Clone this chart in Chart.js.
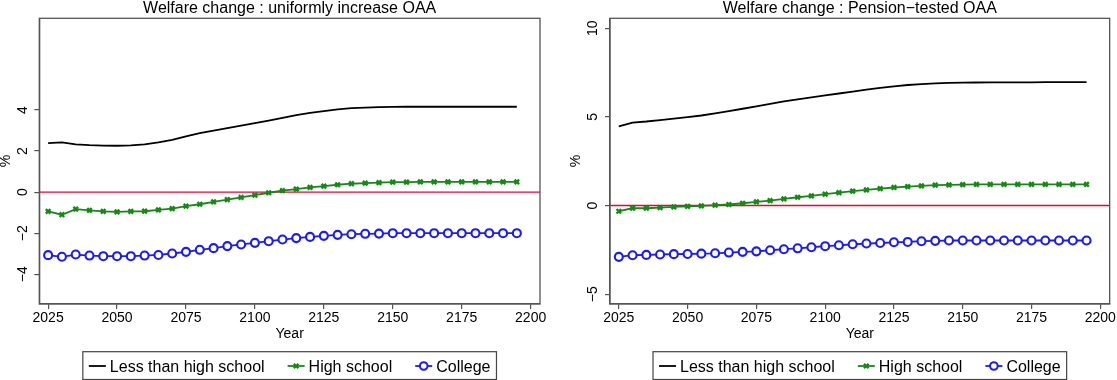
<!DOCTYPE html>
<html>
<head>
<meta charset="utf-8">
<script src="https://cdn.jsdelivr.net/npm/chart.js@4.4.1/dist/chart.umd.min.js"></script>
<style>
  html, body { margin: 0; padding: 0; background: #fff; }
  #wrap { position: relative; width: 1117px; height: 380px; overflow: hidden; }
  canvas { position: absolute; top: 0; }
</style>
</head>
<body>
<div id="wrap">
  <canvas id="c1" width="570" height="380" style="left:0px"></canvas>
  <canvas id="c2" width="547" height="380" style="left:570px"></canvas>
</div>
<script>
// ---------------- DATA ----------------
const years = [2025, 2030, 2035, 2040, 2045, 2050, 2055, 2060, 2065, 2070,
               2075, 2080, 2085, 2090, 2095, 2100, 2105, 2110, 2115, 2120,
               2125, 2130, 2135, 2140, 2145, 2150, 2155, 2160, 2165, 2170,
               2175, 2180, 2185, 2190, 2195];
const xTickLabels = [2025, 2050, 2075, 2100, 2125, 2150, 2175, 2200];
const yTicksA = [-4, -2, 0, 2, 4];
const yTicksB = [-5, 0, 5, 10];
const seriesNames = ['Less than high school', 'High school', 'College'];
const panelTitles = ['Welfare change : uniformly increase OAA', 'Welfare change : Pension\u2212tested OAA'];
const yAxisTitle = '%';
const xAxisTitle = 'Year';

// Panel A: uniformly increase OAA
const lessHS_A = [2.39, 2.42, 2.33, 2.29, 2.27, 2.26, 2.28, 2.33, 2.42, 2.55,
                  2.72, 2.88, 3.00, 3.12, 3.24, 3.36, 3.49, 3.62, 3.75, 3.86,
                  3.95, 4.03, 4.09, 4.12, 4.14, 4.15, 4.16, 4.16, 4.16, 4.16,
                  4.16, 4.16, 4.16, 4.16, 4.16];
const highSchool_A = [-0.94, -1.10, -0.83, -0.89, -0.94, -0.96, -0.94, -0.93, -0.86, -0.80,
                      -0.68, -0.59, -0.47, -0.36, -0.26, -0.15, -0.03, 0.07, 0.15, 0.23,
                      0.29, 0.36, 0.41, 0.44, 0.46, 0.49, 0.49, 0.50, 0.50, 0.50,
                      0.50, 0.50, 0.50, 0.50, 0.50];
const college_A = [-3.07, -3.15, -3.04, -3.09, -3.12, -3.12, -3.12, -3.09, -3.06, -2.99,
                   -2.91, -2.81, -2.73, -2.63, -2.55, -2.47, -2.39, -2.31, -2.24, -2.18,
                   -2.13, -2.08, -2.05, -2.03, -2.02, -2.00, -2.00, -2.00, -2.00, -2.00,
                   -2.00, -2.00, -2.00, -2.00, -2.00];

// Panel B: pension-tested OAA
const lessHS_B = [4.47, 4.68, 4.74, 4.82, 4.90, 4.99, 5.08, 5.20, 5.33, 5.46,
                  5.60, 5.74, 5.87, 5.99, 6.10, 6.21, 6.32, 6.43, 6.54, 6.64,
                  6.72, 6.80, 6.85, 6.89, 6.92, 6.93, 6.94, 6.95, 6.95, 6.95,
                  6.95, 6.96, 6.96, 6.96, 6.96];
const highSchool_B = [-0.32, -0.15, -0.15, -0.11, -0.07, -0.04, -0.02, 0.02, 0.06, 0.13,
                      0.21, 0.28, 0.38, 0.47, 0.55, 0.64, 0.73, 0.81, 0.88, 0.96,
                      1.02, 1.07, 1.11, 1.15, 1.17, 1.18, 1.20, 1.20, 1.20, 1.20,
                      1.20, 1.20, 1.20, 1.20, 1.20];
const college_B = [-2.89, -2.80, -2.78, -2.76, -2.74, -2.73, -2.71, -2.69, -2.65, -2.61,
                   -2.58, -2.52, -2.46, -2.41, -2.35, -2.29, -2.24, -2.18, -2.14, -2.11,
                   -2.07, -2.05, -2.01, -1.99, -1.97, -1.97, -1.97, -1.97, -1.97, -1.97,
                   -1.97, -1.97, -1.97, -1.97, -1.97];

// ---------------- STYLE ----------------
const FONT = '"Liberation Sans", Arial, Helvetica, sans-serif';
const BLACK = '#000000';
const GREEN = '#138a13';
const BLUE = '#1a1aff';
const RED = '#e3063b';
const FRAME = '#555555';
const MINUS = '\u2212';

Chart.defaults.font.family = FONT;
Chart.defaults.color = '#000';

function fmt(v) { return (v < 0 ? MINUS + Math.abs(v) : String(v)); }

const decorPlugin = {
  id: 'decor',
  beforeDatasetsDraw(chart, args, o) {
    const { ctx, chartArea: a, scales: { y } } = chart;
    const py = y.getPixelForValue(0);
    ctx.save();
    ctx.strokeStyle = RED;
    ctx.lineWidth = 1.4;
    ctx.beginPath();
    ctx.moveTo(a.left, py);
    ctx.lineTo(a.right, py);
    ctx.stroke();
    ctx.restore();
  },
  afterDraw(chart, args, o) {
    const { ctx, chartArea: a, scales: { y } } = chart;
    ctx.save();
    // frame
    ctx.strokeStyle = FRAME;
    ctx.lineWidth = 1.3;
    ctx.strokeRect(a.left, a.top, a.right - a.left, a.bottom - a.top);
    // panel title, centred over the plot region
    ctx.fillStyle = '#000';
    ctx.font = '16px ' + FONT;
    ctx.textAlign = 'center';
    ctx.textBaseline = 'alphabetic';
    ctx.fillText(o.title, (a.left + a.right) / 2, 13.2);
    // rotated y tick labels
    ctx.font = '14px ' + FONT;
    ctx.textAlign = 'center';
    ctx.textBaseline = 'middle';
    o.yTicks.forEach(v => {
      const py = y.getPixelForValue(v);
      ctx.save();
      ctx.translate(a.left - 16.5, py);
      ctx.rotate(-Math.PI / 2);
      ctx.fillText(fmt(v), 0, 0);
      ctx.restore();
    });
    // y axis title
    ctx.save();
    ctx.translate(a.left - 33.5, (a.top + a.bottom) / 2);
    ctx.rotate(-Math.PI / 2);
    ctx.fillText(yAxisTitle, 0, 0);
    ctx.restore();
    // legend
    ctx.font = '16px ' + FONT;
    const sampleW = 17, gapT = 4, itemGap = 23, pad = 6;
    const widths = seriesNames.map(n => ctx.measureText(n).width);
    let total = pad * 2 + itemGap * (seriesNames.length - 1);
    widths.forEach(w => total += sampleW + gapT + w);
    const cx = (a.left + a.right) / 2;
    const bx = cx - total / 2;
    const by = 351.7, bh = 27.8;
    ctx.strokeStyle = '#444';
    ctx.lineWidth = 1.2;
    ctx.strokeRect(bx, by, total, bh);
    const ly = 366;
    let x = bx + pad;
    const colors = [BLACK, GREEN, BLUE];
    seriesNames.forEach((n, i) => {
      ctx.strokeStyle = colors[i];
      ctx.lineWidth = 1.8;
      ctx.beginPath();
      ctx.moveTo(x, ly);
      ctx.lineTo(x + sampleW, ly);
      ctx.stroke();
      const mx = x + sampleW / 2;
      if (i === 1) {
        ctx.lineWidth = 2.2;
        const r = 2.3;
        ctx.beginPath();
        ctx.moveTo(mx - r, ly - r); ctx.lineTo(mx + r, ly + r);
        ctx.moveTo(mx - r, ly + r); ctx.lineTo(mx + r, ly - r);
        ctx.stroke();
      } else if (i === 2) {
        ctx.lineWidth = 2;
        ctx.fillStyle = '#fff';
        ctx.beginPath();
        ctx.arc(mx, ly, 3.8, 0, Math.PI * 2);
        ctx.fill();
        ctx.stroke();
      }
      ctx.fillStyle = '#000';
      ctx.textAlign = 'left';
      ctx.textBaseline = 'alphabetic';
      ctx.fillText(n, x + sampleW + gapT, ly + 5.7);
      x += sampleW + gapT + widths[i] + itemGap;
    });
    ctx.restore();
  }
};

function pts(arr) { return years.map((yr, i) => ({ x: yr, y: arr[i] })); }

function makePanel(canvasId, title, data, yMin, yMax, yTicks, plotLeft, padRight) {
  const [lhs, hs, col] = data;
  return new Chart(document.getElementById(canvasId), {
    type: 'line',
    data: {
      datasets: [
        { label: seriesNames[0], data: pts(lhs), borderColor: BLACK, borderWidth: 1.8,
          pointRadius: 0, tension: 0, fill: false },
        { label: seriesNames[1], data: pts(hs), borderColor: GREEN, borderWidth: 1.8,
          pointStyle: 'crossRot', pointRadius: 3.2, pointBorderWidth: 2.4,
          pointBorderColor: GREEN, pointBackgroundColor: GREEN, tension: 0, fill: false },
        { label: seriesNames[2], data: pts(col), borderColor: BLUE, borderWidth: 1.8,
          pointStyle: 'circle', pointRadius: 4, pointBorderWidth: 2.1,
          pointBorderColor: BLUE, pointBackgroundColor: '#ffffff', tension: 0, fill: false }
      ]
    },
    options: {
      responsive: false,
      animation: false,
      devicePixelRatio: 1,
      layout: { padding: { left: 0, right: padRight, top: 18.3, bottom: 37.6 } },
      plugins: {
        legend: { display: false },
        tooltip: { enabled: false },
        title: { display: false },
        decor: { yTicks: yTicks, title: title }
      },
      scales: {
        x: {
          type: 'linear', min: 2021.8, max: 2203.4,
          afterBuildTicks: s => { s.ticks = xTickLabels.map(v => ({ value: v })); },
          afterFit: s => { s.height = 38.4; },
          ticks: { color: '#000', font: { size: 14 }, padding: 1, maxRotation: 0,
                   callback: v => String(v) },
          grid: { display: true, drawOnChartArea: false, drawTicks: true, tickLength: 5,
                  color: FRAME, lineWidth: 1.2 },
          border: { display: true, color: FRAME, width: 1.3 },
          title: { display: true, text: xAxisTitle, color: '#000',
                   font: { size: 14 }, padding: 0 }
        },
        y: {
          type: 'linear', min: yMin, max: yMax,
          afterBuildTicks: s => { s.ticks = yTicks.map(v => ({ value: v })); },
          afterFit: s => { s.width = plotLeft; },
          ticks: { display: false },
          grid: { display: true, drawOnChartArea: false, drawTicks: true, tickLength: 5,
                  color: FRAME, lineWidth: 1.2 },
          border: { display: true, color: FRAME, width: 1.3 }
        }
      }
    },
    plugins: [decorPlugin]
  });
}

makePanel('c1', panelTitles[0], [lessHS_A, highSchool_A, college_A], -5.45, 8.47, yTicksA, 39.3, 30);
makePanel('c2', panelTitles[1], [lessHS_B, highSchool_B, college_B], -5.55, 10.56, yTicksB, 40, 6.4);
</script>
</body>
</html>
